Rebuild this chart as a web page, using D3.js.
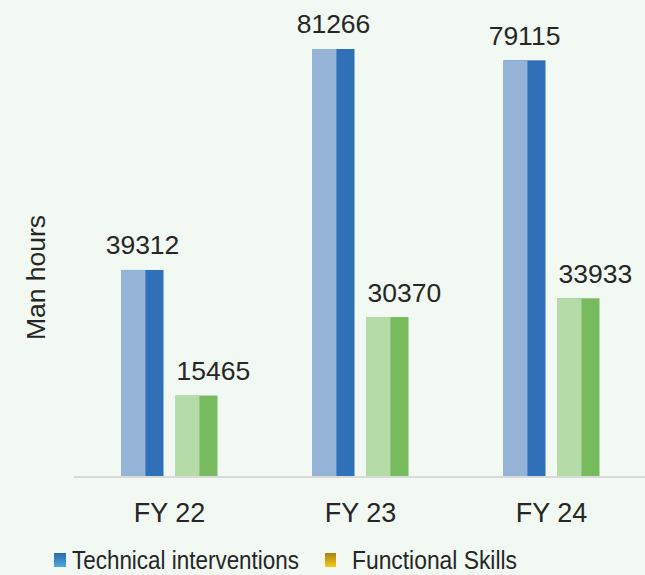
<!DOCTYPE html>
<html>
<head>
<meta charset="utf-8">
<script src="https://cdn.jsdelivr.net/npm/d3@7"></script>
<style>
  html, body { margin: 0; padding: 0; background: #f1f9f2; }
  svg { display: block; font-family: "Liberation Sans", Arial, sans-serif; }
</style>
</head>
<body>
<svg id="chart" width="645" height="575"></svg>
<script>
// Training man hours by financial year
const categories = ["FY 22", "FY 23", "FY 24"];
const seriesNames = ["Technical interventions", "Functional Skills"];
const technical = [39312, 81266, 79115];
const functional = [15465, 30370, 33933];

const W = 645, H = 575;
const svg = d3.select("#chart");
const textColor = "#262626";

// colours: lighter front face + darker side for each series
const barColors = [
  { light: "#95b3d7", dark: "#3070b9" },
  { light: "#b5dba8", dark: "#77bb5e" }
];

const rows = categories.map((c, i) => ({ cat: c, values: [technical[i], functional[i]] }));

const x0 = d3.scaleBand()
  .domain(categories)
  .range([74, 647])
  .paddingInner(95 / 191)
  .paddingOuter(95 / 382);

const x1 = d3.scaleBand()
  .domain(seriesNames)
  .range([0, x0.bandwidth()])
  .paddingInner(12 / 54);

const y = d3.scaleLinear().domain([0, 90000]).range([477, 3]);

const lightFrac = 0.57;

const groups = svg.selectAll("g.grp")
  .data(rows)
  .join("g")
  .attr("class", "grp")
  .attr("transform", d => `translate(${x0(d.cat)},0)`);

const bars = groups.selectAll("g.bar")
  .data(d => d.values.map((v, k) => ({ v, k, name: seriesNames[k] })))
  .join("g")
  .attr("class", "bar");

bars.append("rect")
  .attr("x", d => x1(d.name))
  .attr("y", d => y(d.v))
  .attr("width", x1.bandwidth())
  .attr("height", d => y(0) - y(d.v))
  .attr("fill", d => barColors[d.k].dark);

bars.append("rect")
  .attr("x", d => x1(d.name))
  .attr("y", d => y(d.v))
  .attr("width", x1.bandwidth() * lightFrac)
  .attr("height", d => y(0) - y(d.v))
  .attr("fill", d => barColors[d.k].light);

// value labels
bars.append("text")
  .attr("x", d => d.k === 0 ? x1(d.name) + x1.bandwidth() / 2 : x1(d.name) + 1)
  .attr("y", d => y(d.v) - 15.5)
  .attr("text-anchor", d => d.k === 0 ? "middle" : "start")
  .attr("font-size", 26.5)
  .attr("fill", textColor)
  .text(d => d.v);

// category axis
const xAxisScale = d3.scaleBand().domain(categories).range([74, 647]);
const xAxis = d3.axisBottom(xAxisScale).tickSize(0).tickPadding(0);
const gx = svg.append("g").attr("transform", "translate(0,477)").call(xAxis);
gx.select(".domain").attr("stroke", "#d9d9d9").attr("stroke-width", 2).attr("d", "M74,0H645");
gx.selectAll(".tick text")
  .attr("y", 45)
  .attr("dy", 0)
  .attr("font-size", 27)
  .attr("font-family", "Liberation Sans, Arial, sans-serif")
  .attr("fill", textColor);

// y axis title
svg.append("text")
  .attr("transform", "translate(45,277.5) rotate(-90)")
  .attr("text-anchor", "middle")
  .attr("font-size", 26.5)
  .attr("fill", textColor)
  .text("Man hours");

// legend
const defs = svg.append("defs");
const gradBlue = defs.append("linearGradient").attr("id", "lgBlue").attr("x1", 0).attr("y1", 0).attr("x2", 0).attr("y2", 1);
gradBlue.append("stop").attr("offset", "0%").attr("stop-color", "#2c6aa8");
gradBlue.append("stop").attr("offset", "100%").attr("stop-color", "#4fa9e2");
const gradGold = defs.append("linearGradient").attr("id", "lgGold").attr("x1", 0).attr("y1", 0).attr("x2", 0).attr("y2", 1);
gradGold.append("stop").attr("offset", "0%").attr("stop-color", "#a9820f");
gradGold.append("stop").attr("offset", "100%").attr("stop-color", "#f6c81c");

const legendItems = [
  { name: seriesNames[0], sx: 54, sw: 12, tx: 72, tl: 227, fill: "url(#lgBlue)" },
  { name: seriesNames[1], sx: 325, sw: 11, tx: 352, tl: 165, fill: "url(#lgGold)" }
];
const lg = svg.append("g").selectAll("g").data(legendItems).join("g");
lg.append("rect")
  .attr("x", d => d.sx).attr("y", 553)
  .attr("width", d => d.sw).attr("height", 14)
  .attr("fill", d => d.fill);
lg.append("text")
  .attr("x", d => d.tx).attr("y", 569)
  .attr("font-size", 26)
  .attr("textLength", d => d.tl)
  .attr("lengthAdjust", "spacingAndGlyphs")
  .attr("fill", textColor)
  .text(d => d.name);
</script>
</body>
</html>
